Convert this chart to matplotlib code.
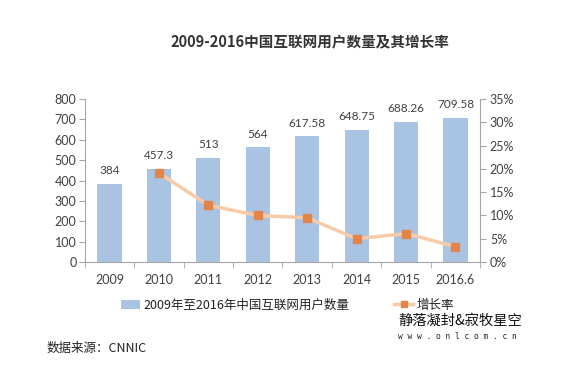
import matplotlib
matplotlib.use("Agg")
import matplotlib.pyplot as plt
from matplotlib.lines import Line2D
from matplotlib.patches import Patch
from matplotlib.ticker import FuncFormatter

plt.rcParams['font.family'] = ['Noto Sans CJK SC', 'DejaVu Sans']

categories = ["2009", "2010", "2011", "2012", "2013", "2014", "2015", "2016.6"]
users = [384, 457.3, 513, 564, 617.58, 648.75, 688.26, 709.58]
user_labels = ["384", "457.3", "513", "564", "617.58", "648.75", "688.26", "709.58"]
growth_cats = ["2010", "2011", "2012", "2013", "2014", "2015", "2016.6"]
growth = [19.1, 12.2, 10.0, 9.5, 5.0, 6.1, 3.3]
left_ticks = [0, 100, 200, 300, 400, 500, 600, 700, 800]
right_ticks = [0, 5, 10, 15, 20, 25, 30, 35]

bar_color = "#a9c3e3"
line_color = "#f7cba8"
marker_color = "#e3844b"
txt_color = "#404040"
axis_color = "#a6a6a6"
num_font = "Lato"

fig = plt.figure(figsize=(5.73, 3.74), dpi=100)
fig.patch.set_facecolor("white")
ax = fig.add_axes([0.148, 0.2995, 0.690, 0.4355])

x = list(range(len(categories)))
ax.bar(x, users, width=0.49, color=bar_color, zorder=2)
for xi, v, lab in zip(x, users, user_labels):
    ax.annotate(lab, (xi, v), xytext=(0, 5.5), textcoords="offset points",
                ha="center", va="bottom", fontsize=8.5, color=txt_color,
                family=num_font)

ax.set_xlim(-0.5, len(categories) - 0.5)
ax.set_ylim(0, 800)
ax.set_yticks(left_ticks)
ax.set_xticks(x)
ax.set_xticklabels(categories)
ax.set_xticks([i - 0.5 for i in range(len(categories) + 1)], minor=True)
ax.tick_params(axis="x", which="major", length=0, pad=9, labelsize=9,
               labelcolor=txt_color)
ax.tick_params(axis="x", which="minor", length=4, color=axis_color, direction="out")
ax.tick_params(axis="y", length=4, color=axis_color, labelsize=9,
               labelcolor=txt_color, pad=2)
for lab in ax.get_xticklabels() + ax.get_yticklabels():
    lab.set_family(num_font)
for s in ["top", "right"]:
    ax.spines[s].set_visible(False)
for s in ["left", "bottom"]:
    ax.spines[s].set_color(axis_color)

ax2 = ax.twinx()
gx = [categories.index(c) for c in growth_cats]
ax2.plot(gx, growth, color=line_color, linewidth=2.5, zorder=3,
         solid_capstyle="round")
ax2.plot(gx, growth, linestyle="none", marker="s", markersize=6,
         markerfacecolor=marker_color, markeredgecolor=marker_color, zorder=4)
ax2.set_ylim(0, 35)
ax2.set_yticks(right_ticks)
ax2.yaxis.set_major_formatter(FuncFormatter(lambda v, p: f"{int(v)}%"))
ax2.tick_params(axis="y", length=4, color=axis_color, labelsize=9,
                labelcolor=txt_color, pad=3)
for lab in ax2.get_yticklabels():
    lab.set_family(num_font)
for s in ["top", "left", "bottom"]:
    ax2.spines[s].set_visible(False)
ax2.spines["right"].set_color(axis_color)

fig.text(0.541, 0.888, "2009-2016中国互联网用户数量及其增长率", ha="center",
         va="center", fontsize=10.5, fontweight="bold", color="#333333")

handles = [Patch(facecolor=bar_color, edgecolor="none"),
           Line2D([0], [0], color=line_color, linewidth=2.5, marker="s",
                  markersize=5, markerfacecolor=marker_color,
                  markeredgecolor=marker_color)]
fig.legend(handles, ["2009年至2016年中国互联网用户数量", "增长率"],
           loc="center", bbox_to_anchor=(0.502, 0.184), ncol=2, frameon=False,
           fontsize=9, columnspacing=3.6, handlelength=1.5, handletextpad=0.3,
           labelcolor="#222222")

fig.text(0.695, 0.142, "静落凝封&寂牧星空", ha="left", va="center",
         fontsize=10.3, color="#111111", family=["Noto Sans CJK SC", "DejaVu Sans"])
fig.text(0.695, 0.100, "w w w . o n l c o m . c n", ha="left", va="center",
         fontsize=5.7, color="#222222", family="DejaVu Sans Mono")
fig.text(0.082, 0.068, "数据来源：CNNIC", ha="left", va="center",
         fontsize=9, color="#222222")

fig.savefig("out.png", dpi=100, facecolor="white")
